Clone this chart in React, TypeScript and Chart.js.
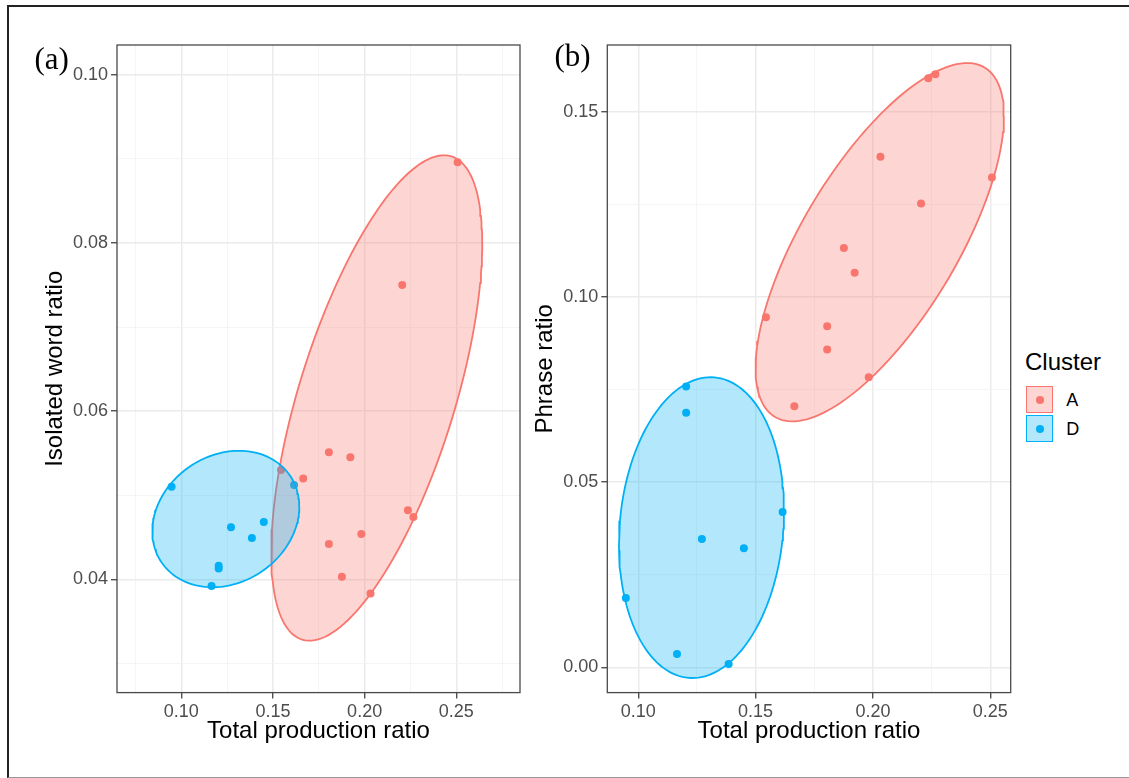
import React, { useEffect, useRef } from "react";
import { Chart, registerables } from "chart.js";
Chart.register(...registerables);

const FONT = "'Liberation Sans', Arial, Helvetica, sans-serif";
Chart.defaults.font.family = FONT;

const RED = "#F8766D";
const BLUE = "#00B0F6";
const RED_FILL = "rgba(248,118,109,0.3)";
const BLUE_FILL = "rgba(0,176,246,0.3)";

// ---- Data ----
// Cluster A
const clusterA_total = [0.2507, 0.2205, 0.1544, 0.1665, 0.1805, 0.1922, 0.2236, 0.2266, 0.1982, 0.1805, 0.1876, 0.2032];
const clusterA_isolated = [0.0896, 0.0750, 0.0530, 0.0520, 0.0551, 0.0545, 0.0482, 0.0474, 0.0454, 0.0442, 0.0403, 0.0383];
const clusterA_phrase = [0.1322, 0.1252, 0.0945, 0.0705, 0.0921, 0.1065, 0.1590, 0.1601, 0.0783, 0.0858, 0.1132, 0.1378];
// Cluster D
const clusterD_total = [0.0947, 0.1615, 0.1271, 0.1450, 0.1385, 0.1204, 0.1204, 0.1165];
const clusterD_isolated = [0.0510, 0.0512, 0.0462, 0.0468, 0.0449, 0.0416, 0.0413, 0.0392];
const clusterD_phrase = [0.0187, 0.0419, 0.0346, 0.0321, 0.0009, 0.0758, 0.0687, 0.0036];

// Ellipses: [centerX, centerY, conjugate vector U (x,y), conjugate vector V (x,y)] in data units
const ellipseA_isolated = [0.2066, 0.06156, 0.05754, 0.01839, 0, 0.02224];
const ellipseD_isolated = [0.12427, 0.04717, 0.04009, 0.001463, 0, 0.007979];
const ellipseA_phrase = [0.2029, 0.11476, 0.05293, 0.03405, 0, 0.03435];
const ellipseD_phrase = [0.12693, 0.0377, 0.03516, 0.004514, 0, 0.04035];

// Axis ranges
const xRangeA = [0.06493, 0.28474];
const yRangeA = [0.02653, 0.10353];
const xRangeB = [0.0868, 0.2587];
const yRangeB = [-0.00684, 0.168];

// Grid/ticks (major labelled, minor unlabelled)
const xTicksA = [0.075, 0.1, 0.125, 0.15, 0.175, 0.2, 0.225, 0.25, 0.275];
const xLabelsA = ["0.10", "0.15", "0.20", "0.25"];
const yTicksA = [0.03, 0.04, 0.05, 0.06, 0.07, 0.08, 0.09, 0.1];
const yLabelsA = ["0.04", "0.06", "0.08", "0.10"];
const xTicksB = [0.1, 0.125, 0.15, 0.175, 0.2, 0.225, 0.25];
const xLabelsB = ["0.10", "0.15", "0.20", "0.25"];
const yTicksB = [0, 0.025, 0.05, 0.075, 0.1, 0.125, 0.15];
const yLabelsB = ["0.00", "0.05", "0.10", "0.15"];

function ellipsePoints(p: number[]) {
  const [cx, cy, ux, uy, vx, vy] = p;
  const pts: { x: number; y: number }[] = [];
  const n = 160;
  for (let i = 0; i <= n; i++) {
    const t = (i / n) * Math.PI * 2;
    pts.push({ x: cx + ux * Math.cos(t) + vx * Math.sin(t), y: cy + uy * Math.cos(t) + vy * Math.sin(t) });
  }
  return pts;
}

function zip(xs: number[], ys: number[]) {
  return xs.map((x, i) => ({ x, y: ys[i] }));
}

function labelFor(labels: string[]) {
  return (v: number) => {
    const s = Number(v).toFixed(2);
    return labels.includes(s) && Math.abs(Number(s) - v) < 1e-9 ? s : "";
  };
}

const borderPlugin = {
  id: "panelBorder",
  afterDatasetsDraw(chart: any) {
    const { ctx, chartArea: a } = chart;
    ctx.save();
    ctx.strokeStyle = "#4a4a4a";
    ctx.lineWidth = 1.3;
    ctx.strokeRect(a.left, a.top, a.right - a.left, a.bottom - a.top);
    ctx.restore();
  },
};

type PanelProps = {
  left: number;
  width: number;
  yAxisWidth: number;
  rightPad: number;
  yTitlePad: number;
  xTotal: [number[], number[]];
  yVals: [number[], number[]];
  ellipses: [number[], number[]];
  xRange: number[];
  yRange: number[];
  xTicks: number[];
  xLabels: string[];
  yTicks: number[];
  yLabels: string[];
  yTitle: string;
};

function Panel(p: PanelProps) {
  const ref = useRef<HTMLCanvasElement>(null);
  useEffect(() => {
    if (!ref.current) return;
    const xLab = labelFor(p.xLabels);
    const yLab = labelFor(p.yLabels);
    const major = (lab: (v: number) => string) => (ctx: any) => (ctx.tick && lab(ctx.tick.value) !== "" ? true : false);
    const xMaj = major(xLab);
    const yMaj = major(yLab);
    const chart = new Chart(ref.current, {
      type: "scatter",
      data: {
        datasets: [
          {
            type: "line",
            data: ellipsePoints(p.ellipses[1]),
            borderColor: BLUE,
            backgroundColor: BLUE_FILL,
            borderWidth: 1.8,
            pointRadius: 0,
            fill: "shape",
            tension: 0,
          } as any,
          {
            type: "line",
            data: ellipsePoints(p.ellipses[0]),
            borderColor: RED,
            backgroundColor: RED_FILL,
            borderWidth: 1.8,
            pointRadius: 0,
            fill: "shape",
            tension: 0,
          } as any,
          {
            data: zip(p.xTotal[1], p.yVals[1]),
            backgroundColor: BLUE,
            borderWidth: 0,
            pointRadius: 4,
          },
          {
            data: zip(p.xTotal[0], p.yVals[0]),
            backgroundColor: RED,
            borderWidth: 0,
            pointRadius: 4,
          },
        ],
      },
      options: {
        animation: false,
        responsive: false,
        maintainAspectRatio: false,
        devicePixelRatio: 1,
        layout: { padding: { left: 0, top: 45, right: p.rightPad, bottom: 28.6 } },
        plugins: { legend: { display: false }, tooltip: { enabled: false } },
        scales: {
          x: {
            type: "linear",
            min: p.xRange[0],
            max: p.xRange[1],
            afterBuildTicks: (s: any) => {
              s.ticks = p.xTicks.map((v) => ({ value: v }));
            },
            afterFit: (s: any) => {
              s.height = 56.8;
            },
            ticks: {
              callback: (v: any) => xLab(Number(v)),
              color: "#4D4D4D",
              font: { size: 18 },
              padding: 3,
              autoSkip: false,
              maxRotation: 0,
              minRotation: 0,
            },
            grid: {
              color: (c: any) => (xMaj(c) ? "#EBEBEB" : "#F3F3F3"),
              lineWidth: (c: any) => (xMaj(c) ? 1.5 : 0.8),
              tickColor: (c: any) => (xMaj(c) ? "#333333" : "rgba(0,0,0,0)"),
              tickLength: 6,
              tickWidth: 1.2,
              drawTicks: true,
            },
            border: { display: false },
            title: {
              display: true,
              text: "Total production ratio",
              color: "#000",
              font: { size: 24 },
              padding: { top: 4, bottom: 4 },
            },
          },
          y: {
            type: "linear",
            min: p.yRange[0],
            max: p.yRange[1],
            afterBuildTicks: (s: any) => {
              s.ticks = p.yTicks.map((v) => ({ value: v }));
            },
            afterFit: (s: any) => {
              s.width = p.yAxisWidth;
            },
            ticks: {
              callback: (v: any) => yLab(Number(v)),
              color: "#4D4D4D",
              font: { size: 18 },
              padding: 3,
              autoSkip: false,
            },
            grid: {
              color: (c: any) => (yMaj(c) ? "#EBEBEB" : "#F3F3F3"),
              lineWidth: (c: any) => (yMaj(c) ? 1.5 : 0.8),
              tickColor: (c: any) => (yMaj(c) ? "#333333" : "rgba(0,0,0,0)"),
              tickLength: 6,
              tickWidth: 1.2,
              drawTicks: true,
            },
            border: { display: false },
            title: {
              display: true,
              text: p.yTitle,
              color: "#000",
              font: { size: 24 },
              padding: { top: p.yTitlePad, bottom: 0 },
            },
          },
        },
      } as any,
      plugins: [borderPlugin],
    });
    return () => chart.destroy();
  }, []);
  return (
    <canvas
      ref={ref}
      width={p.width}
      height={778}
      style={{ position: "absolute", left: p.left, top: 0, width: p.width, height: 778 }}
    />
  );
}

export default function App() {
  return (
    <div
      style={{
        position: "fixed",
        left: 0,
        top: 0,
        width: 1129,
        height: 778,
        background: "#fff",
        overflow: "hidden",
        fontFamily: FONT,
      }}
    >
      <div
        style={{
          position: "absolute",
          left: 6.5,
          top: 4.7,
          width: 1200,
          height: 773,
          boxSizing: "border-box",
          borderTop: "2px solid #222",
          borderLeft: "2px solid #222",
          borderBottom: "1.5px solid #999",
        }}
      />
      <Panel
        left={0}
        width={540}
        yAxisWidth={117}
        rightPad={20}
        yTitlePad={40.5}
        xTotal={[clusterA_total, clusterD_total]}
        yVals={[clusterA_isolated, clusterD_isolated]}
        ellipses={[ellipseA_isolated, ellipseD_isolated]}
        xRange={xRangeA}
        yRange={yRangeA}
        xTicks={xTicksA}
        xLabels={xLabelsA}
        yTicks={yTicksA}
        yLabels={yLabelsA}
        yTitle="Isolated word ratio"
      />
      <Panel
        left={530}
        width={490}
        yAxisWidth={77.3}
        rightPad={9.3}
        yTitlePad={1.2}
        xTotal={[clusterA_total, clusterD_total]}
        yVals={[clusterA_phrase, clusterD_phrase]}
        ellipses={[ellipseA_phrase, ellipseD_phrase]}
        xRange={xRangeB}
        yRange={yRangeB}
        xTicks={xTicksB}
        xLabels={xLabelsB}
        yTicks={yTicksB}
        yLabels={yLabelsB}
        yTitle="Phrase ratio"
      />
      <div style={{ position: "absolute", left: 34.5, top: 42.5, font: "31px 'Liberation Serif', 'Times New Roman', serif", lineHeight: "31px", color: "#000" }}>(a)</div>
      <div style={{ position: "absolute", left: 554.5, top: 39.5, font: "31px 'Liberation Serif', 'Times New Roman', serif", lineHeight: "31px", color: "#000" }}>(b)</div>
      <div style={{ position: "absolute", left: 1025, top: 348.7, fontSize: 24, lineHeight: "26px", color: "#000" }}>Cluster</div>
      {[
        { label: "A", color: RED, fill: RED_FILL, top: 386, textTop: 390.4 },
        { label: "D", color: BLUE, fill: BLUE_FILL, top: 415.3, textTop: 418.7 },
      ].map((k) => (
        <React.Fragment key={k.label}>
          <div
            style={{
              position: "absolute",
              left: 1026,
              top: k.top,
              width: 27,
              height: 27,
              boxSizing: "border-box",
              border: `1.6px solid ${k.color}`,
              background: k.fill,
            }}
          >
            <div
              style={{
                position: "absolute",
                left: "50%",
                top: "50%",
                width: 8,
                height: 8,
                marginLeft: -4,
                marginTop: -4,
                borderRadius: "50%",
                background: k.color,
              }}
            />
          </div>
          <div style={{ position: "absolute", left: 1066.3, top: k.textTop, fontSize: 18, lineHeight: "20px", color: "#000" }}>{k.label}</div>
        </React.Fragment>
      ))}
    </div>
  );
}
